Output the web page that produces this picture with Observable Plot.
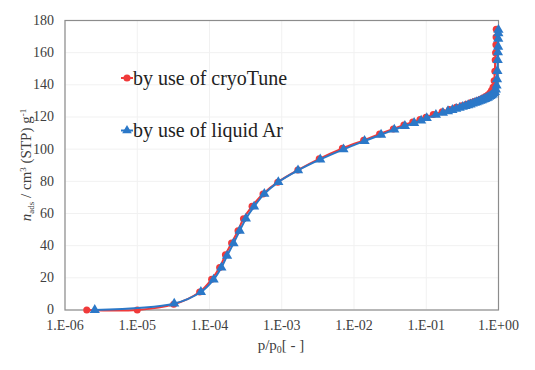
<!DOCTYPE html>
<html>
<head>
<meta charset="utf-8">
<script src="https://cdn.jsdelivr.net/npm/d3@7"></script>
<script src="https://cdn.jsdelivr.net/npm/@observablehq/plot@0.6"></script>
<style>
  html, body { margin: 0; padding: 0; background: #fff; }
</style>
</head>
<body>
<div id="chart"></div>
<script>
// ---- data ----
const seriesNames = ["by use of cryoTune", "by use of liquid Ar"];

const cryoP = [2.0e-6, 1.0e-5, 3.2e-5, 7.3e-5, 1.07e-4, 1.38e-4, 1.66e-4, 2.02e-4, 2.48e-4, 2.95e-4,
  3.88e-4, 5.5e-4, 8.8e-4, 1.67e-3, 3.3e-3, 6.9e-3, 0.0136, 0.0226, 0.035, 0.049,
  0.065, 0.082, 0.099, 0.125, 0.166, 0.21, 0.26, 0.31, 0.36, 0.41,
  0.46, 0.51, 0.56, 0.61, 0.66, 0.71, 0.76, 0.80, 0.84, 0.87,
  0.89, 0.90, 0.91, 0.92, 0.925, 0.93];
const cryoN = [0, 0, 3.5, 11.2, 19.1, 26.4, 34.3, 41.6, 49.3, 56.8,
  64.5, 72.2, 79.5, 87.0, 94.0, 100.5, 105.5, 109.4, 112.6, 115.0,
  116.9, 118.4, 119.8, 121.5, 123.3, 124.7, 126.0, 127.0, 128.0, 128.8,
  129.6, 130.3, 131.0, 131.8, 132.7, 133.7, 135.0, 136.5, 138.5, 142.5,
  148.5, 155.5, 160.0, 165.0, 169.7, 174.6];

const arP = [2.58e-6, 3.25e-5, 7.6e-5, 1.14e-4, 1.46e-4, 1.75e-4, 2.15e-4, 2.62e-4, 3.19e-4, 4.14e-4,
  5.74e-4, 8.96e-4, 1.68e-3, 3.41e-3, 7.15e-3, 0.014, 0.0237, 0.0361, 0.0506, 0.068,
  0.085, 0.1016, 0.136, 0.17, 0.2, 0.23, 0.26, 0.29, 0.32, 0.35,
  0.38, 0.41, 0.44, 0.47, 0.5, 0.53, 0.56, 0.59, 0.62, 0.65,
  0.68, 0.71, 0.74, 0.77, 0.8, 0.83, 0.86, 0.89, 0.92, 0.94,
  0.955, 0.965, 0.975, 0.982, 0.988, 0.992, 0.995, 0.998];
const arN = [0, 4.0, 11.2, 18.9, 26.4, 33.7, 41.4, 49.3, 56.8, 64.3,
  72.2, 79.5, 86.8, 93.6, 99.9, 105.1, 109.0, 112.2, 114.4, 116.3,
  117.8, 119.3, 121.3, 122.6, 123.6, 124.4, 125.1, 125.7, 126.3, 126.8,
  127.3, 127.8, 128.3, 128.8, 129.2, 129.6, 130.0, 130.4, 130.8, 131.2,
  131.6, 132.0, 132.5, 133.0, 133.5, 134.0, 134.7, 135.5, 137.0, 139.5,
  143.5, 148.6, 155.4, 160.2, 163.7, 168.7, 172.0, 174.2];

const xTicks = [1e-6, 1e-5, 1e-4, 1e-3, 1e-2, 1e-1, 1];
const yTicks = [0, 20, 40, 60, 80, 100, 120, 140, 160, 180];

const RED = "#f03a3a";
const BLUE = "#2b78c8";

const cryo = cryoP.map((p, i) => ({p, n: cryoN[i]}));
const ar = arP.map((p, i) => ({p, n: arN[i]}));

const fmtX = d => {
  const e = Math.round(Math.log10(d));
  return "1.E" + (e < 0 ? "-" : "+") + String(Math.abs(e)).padStart(2, "0");
};

const W = 535, H = 370;
const plot = Plot.plot({
  width: W,
  height: H,
  marginLeft: 64.5,
  marginRight: 37,
  marginTop: 20,
  marginBottom: 60.5,
  style: {fontFamily: "'Liberation Serif', 'Times New Roman', serif", fontSize: "14px", color: "#404040", background: "#fff"},
  x: {type: "log", domain: [1e-6, 1], ticks: xTicks, tickFormat: fmtX, tickSize: 0, tickPadding: 10, label: null},
  y: {domain: [0, 180], ticks: yTicks, tickSize: 0, tickPadding: 11, label: null},
  marks: [
    Plot.gridX(xTicks, {stroke: "#f1f1f1", strokeOpacity: 1}),
    Plot.gridY(yTicks, {stroke: "#f1f1f1", strokeOpacity: 1}),
    Plot.frame({stroke: "#8c8c8c", strokeWidth: 1.2}),
    Plot.line(cryo, {x: "p", y: "n", stroke: RED, strokeWidth: 2, curve: "catmull-rom"}),
    Plot.dot(cryo, {x: "p", y: "n", fill: RED, r: 3.5, stroke: "none"}),
    Plot.line(ar, {x: "p", y: "n", stroke: BLUE, strokeWidth: 2, curve: "catmull-rom"}),
    Plot.dot(ar, {x: "p", y: "n", fill: BLUE, symbol: "triangle", r: 3.8, stroke: "none"})
  ]
});
document.getElementById("chart").appendChild(plot);

// ---- axis titles and legend ----
const svg = d3.select(plot);
const serif = "'Liberation Serif', 'Times New Roman', serif";

// x title
const xt = svg.append("text")
  .attr("x", 281).attr("y", 350)
  .attr("text-anchor", "middle")
  .attr("font-family", serif).attr("font-size", 15).attr("fill", "#404040");
xt.append("tspan").text("p/p");
xt.append("tspan").attr("font-size", 10).attr("dy", 3).text("0");
xt.append("tspan").attr("dy", -3).text("[ - ]");

// y title
const yt = svg.append("text")
  .attr("transform", "translate(31,165) rotate(-90)")
  .attr("text-anchor", "middle")
  .attr("font-family", serif).attr("font-size", 15).attr("fill", "#404040");
yt.append("tspan").attr("font-style", "italic").text("n");
yt.append("tspan").attr("font-size", 9).attr("dy", 3).text("ads");
yt.append("tspan").attr("dy", -3).text(" / cm");
yt.append("tspan").attr("font-size", 9).attr("dy", -5).text("3");
yt.append("tspan").attr("dy", 5).text(" (STP) g");
yt.append("tspan").attr("font-size", 9).attr("dy", -5).text("-1");

// legend
const legendRows = [
  {name: seriesNames[0], color: RED, sym: d3.symbolCircle, y: 78},
  {name: seriesNames[1], color: BLUE, sym: d3.symbolTriangle, y: 130.5}
];
const lg = svg.append("g");
legendRows.forEach(r => {
  lg.append("line").attr("x1", 121).attr("x2", 133).attr("y1", r.y).attr("y2", r.y)
    .attr("stroke", r.color).attr("stroke-width", 2);
  lg.append("path").attr("d", d3.symbol(r.sym, 40)())
    .attr("transform", `translate(127,${r.y})`).attr("fill", r.color);
  lg.append("text").attr("x", 133).attr("y", r.y + 6.5)
    .attr("text-anchor", "start")
    .attr("font-family", serif).attr("font-size", 20).attr("fill", "#222")
    .text(r.name);
});
</script>
</body>
</html>
